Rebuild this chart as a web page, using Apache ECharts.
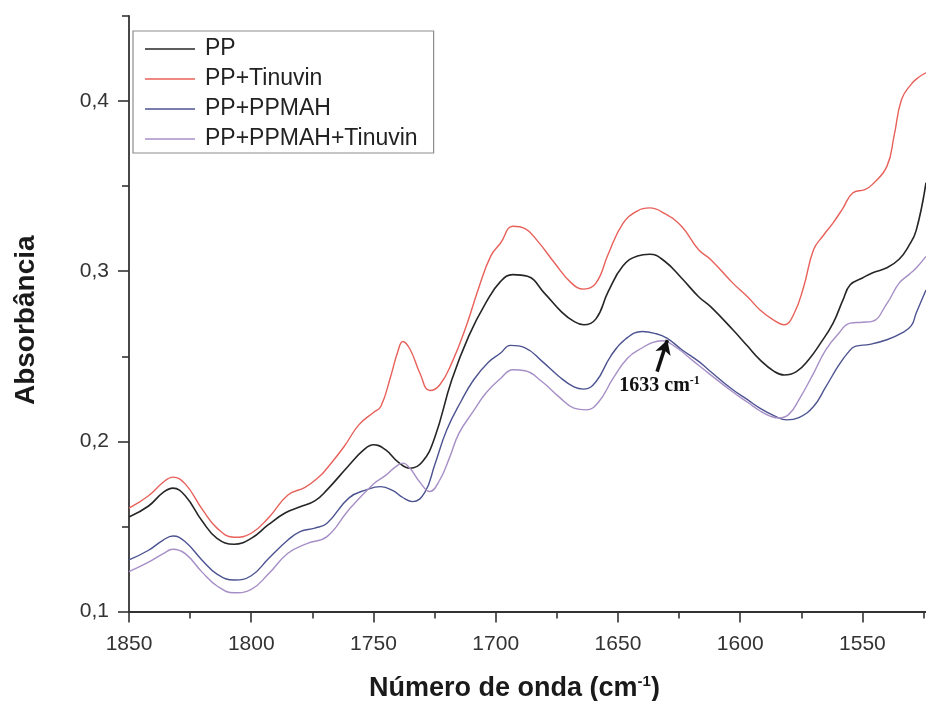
<!DOCTYPE html>
<html>
<head>
<meta charset="utf-8">
<script src="https://cdn.jsdelivr.net/npm/echarts@6/dist/echarts.min.js"></script>
<style>
  html, body { margin: 0; padding: 0; background: #ffffff; }
  #chart { width: 926px; height: 701px; }
</style>
</head>
<body>
<div id="chart"></div>
<script>
// FTIR absorbance spectra, carbonyl region (wavenumber in cm-1, absorbance)
const seriesNames = ['PP', 'PP+Tinuvin', 'PP+PPMAH', 'PP+PPMAH+Tinuvin'];

const pp = [
  [1850, 0.1555], [1842, 0.162], [1836, 0.170], [1832, 0.1725], [1827, 0.168],
  [1820, 0.153], [1814, 0.143], [1807, 0.1395], [1800, 0.143], [1793, 0.151],
  [1786, 0.158], [1780, 0.1615], [1774, 0.165], [1769, 0.1715], [1760, 0.186],
  [1754, 0.195], [1750, 0.198], [1745, 0.195], [1740, 0.188], [1735, 0.1842],
  [1730, 0.188], [1725, 0.202], [1718, 0.236], [1711, 0.262], [1704, 0.2815],
  [1698, 0.294], [1693, 0.298], [1687, 0.297], [1680, 0.287], [1673, 0.276],
  [1668, 0.2705], [1664, 0.2685], [1659, 0.272], [1654, 0.288], [1648, 0.303],
  [1642, 0.309], [1637, 0.310], [1631, 0.306], [1624, 0.296], [1617, 0.285],
  [1612, 0.279], [1603, 0.2656], [1597, 0.256], [1592, 0.248], [1586, 0.241],
  [1582, 0.239], [1577, 0.241], [1572, 0.248], [1567, 0.258], [1562, 0.2695],
  [1558, 0.283], [1555, 0.292], [1550, 0.296], [1546, 0.299], [1540, 0.302],
  [1535, 0.307], [1531, 0.315], [1528, 0.324], [1524, 0.352]
];

const ppTinuvin = [
  [1850, 0.1607], [1842, 0.168], [1836, 0.176], [1832, 0.179], [1827, 0.175],
  [1820, 0.160], [1814, 0.149], [1807, 0.1436], [1800, 0.146], [1793, 0.155],
  [1785, 0.1685], [1778, 0.173], [1772, 0.1795], [1769, 0.1842], [1762, 0.197],
  [1756, 0.2097], [1750, 0.217], [1747, 0.2205], [1743, 0.238], [1740, 0.253],
  [1738, 0.2587], [1735, 0.254], [1731, 0.240], [1727, 0.2299], [1723, 0.233],
  [1718, 0.246], [1712, 0.268], [1707, 0.290], [1702, 0.309], [1698, 0.3166],
  [1693, 0.3264], [1688, 0.325], [1683, 0.318], [1676, 0.305], [1669, 0.293],
  [1664, 0.2895], [1659, 0.293], [1654, 0.310], [1648, 0.328], [1642, 0.3355],
  [1637, 0.3372], [1631, 0.334], [1624, 0.3264], [1617, 0.3126], [1612, 0.3068],
  [1603, 0.293], [1597, 0.285], [1592, 0.2774], [1586, 0.271], [1582, 0.2685],
  [1578, 0.275], [1574, 0.291], [1570, 0.3126], [1566, 0.321], [1562, 0.3284],
  [1558, 0.337], [1554, 0.346], [1549, 0.348], [1546, 0.3509], [1540, 0.3616],
  [1537, 0.380], [1534, 0.4009], [1530, 0.410], [1527, 0.414], [1524, 0.4166]
];

const ppPpmah = [
  [1850, 0.1303], [1842, 0.136], [1836, 0.142], [1832, 0.1444], [1827, 0.141],
  [1820, 0.130], [1814, 0.122], [1807, 0.1185], [1800, 0.121], [1793, 0.131],
  [1785, 0.142], [1780, 0.147], [1774, 0.149], [1769, 0.1519], [1760, 0.1668],
  [1753, 0.1715], [1747, 0.1734], [1742, 0.171], [1738, 0.167], [1734, 0.1646],
  [1729, 0.170], [1725, 0.186], [1720, 0.2068], [1714, 0.224], [1709, 0.2362],
  [1703, 0.2465], [1698, 0.2519], [1694, 0.2564], [1688, 0.255], [1681, 0.247],
  [1674, 0.238], [1668, 0.232], [1664, 0.2307], [1659, 0.235], [1653, 0.250],
  [1647, 0.260], [1640, 0.2646], [1635, 0.2635], [1630, 0.2607], [1624, 0.254],
  [1617, 0.247], [1613, 0.2421], [1603, 0.2303], [1597, 0.2245], [1592, 0.2195],
  [1586, 0.215], [1581, 0.2126], [1576, 0.214], [1570, 0.2205], [1565, 0.232],
  [1560, 0.244], [1556, 0.252], [1553, 0.2558], [1547, 0.257], [1540, 0.2597],
  [1534, 0.2636], [1530, 0.268], [1528, 0.2754], [1524, 0.289]
];

const ppPpmahTinuvin = [
  [1850, 0.1234], [1842, 0.129], [1836, 0.134], [1832, 0.1366], [1827, 0.134],
  [1820, 0.123], [1814, 0.115], [1807, 0.111], [1800, 0.113], [1793, 0.122],
  [1785, 0.1342], [1777, 0.1401], [1769, 0.144], [1760, 0.160], [1750, 0.175],
  [1745, 0.180], [1741, 0.185], [1738, 0.1872], [1735, 0.184], [1731, 0.176],
  [1727, 0.1705], [1723, 0.177], [1719, 0.190], [1715, 0.2048], [1709, 0.218],
  [1704, 0.2284], [1698, 0.237], [1693, 0.2421], [1688, 0.2415], [1681, 0.235],
  [1674, 0.226], [1668, 0.2195], [1663, 0.2185], [1658, 0.223], [1652, 0.237],
  [1646, 0.249], [1640, 0.255], [1636, 0.258], [1632, 0.2591], [1626, 0.255],
  [1619, 0.247], [1613, 0.2401], [1603, 0.229], [1597, 0.223], [1592, 0.218],
  [1588, 0.215], [1584, 0.2137], [1580, 0.216], [1576, 0.2244], [1570, 0.240],
  [1565, 0.2538], [1560, 0.263], [1555, 0.2695], [1550, 0.270], [1546, 0.2705],
  [1540, 0.281], [1535, 0.293], [1531, 0.298], [1528, 0.3019], [1524, 0.3087]
];

// axis ticks
const xMajorTicks = [1850, 1800, 1750, 1700, 1650, 1600, 1550];
const xMinorTicks = [1825, 1775, 1725, 1675, 1625, 1575, 1525];
const yMajorTicks = [0.1, 0.2, 0.3, 0.4];
const yMinorTicks = [0.15, 0.25, 0.35, 0.45];

// peak annotation (arrow from tail to head, label centre)
const peakText = '1633 cm';
const peakArrow = [[1634, 0.241], [1629.8, 0.2595]];
const peakLabelAt = [1633, 0.2326];

const colors = ['#262626', '#e8605a', '#4c5391', '#a68fc6'];
const seriesData = [pp, ppTinuvin, ppPpmah, ppPpmahTinuvin];

const FONT = 'Liberation Sans, Arial, sans-serif';
const AXIS_COLOR = '#333333';

const chart = echarts.init(document.getElementById('chart'), null, { renderer: 'canvas' });

const series = seriesNames.map((name, i) => ({
  name: name,
  type: 'line',
  xAxisIndex: 0,
  yAxisIndex: 0,
  data: seriesData[i],
  symbol: 'none',
  smooth: 0.45,
  lineStyle: { color: colors[i], width: i === 0 ? 1.6 : 1.4 },
  itemStyle: { color: colors[i] },
  z: 2
}));

series[3].markLine = {
  silent: true,
  symbol: ['none', 'arrow'],
  symbolSize: [12, 14],
  label: { show: false },
  lineStyle: { color: '#111111', width: 3.5, type: 'solid' },
  data: [[{ coord: peakArrow[0] }, { coord: peakArrow[1] }]]
};
series[3].markPoint = {
  silent: true,
  symbol: 'rect',
  symbolSize: [1, 1],
  itemStyle: { color: 'rgba(0,0,0,0)' },
  label: {
    show: true,
    position: 'inside',
    formatter: '{a|' + peakText + '}{s|-1}',
    rich: {
      a: { fontFamily: 'Liberation Serif, Times New Roman, serif', fontWeight: 'bold', fontSize: 20, color: '#111111' },
      s: { fontFamily: 'Liberation Serif, Times New Roman, serif', fontWeight: 'bold', fontSize: 12, color: '#111111', padding: [0, 0, 9, 0] }
    }
  },
  data: [{ coord: peakLabelAt }]
};

const decimalComma = v => v.toFixed(1).replace('.', ',');
const plainNumber = v => String(Math.round(v));

const option = {
  animation: false,
  backgroundColor: '#ffffff',
  color: colors,
  grid: { left: 129, right: 0, top: 16, bottom: 89.5, containLabel: false, outerBoundsMode: 'none' },
  legend: {
    orient: 'vertical',
    left: 133,
    top: 31,
    data: seriesNames,
    icon: 'path://M0,0 L50,0 L50,1.4 L0,1.4 Z',
    itemWidth: 50,
    itemHeight: 2,
    itemGap: 4,
    padding: [5, 16, 1, 12],
    borderColor: '#8c8c8c',
    borderWidth: 1.2,
    backgroundColor: '#ffffff',
    selectedMode: false,
    textStyle: { fontFamily: FONT, fontSize: 23, lineHeight: 26, color: '#222222', padding: [0, 0, 0, 5] }
  },
  xAxis: [
    {
      type: 'value',
      inverse: true,
      min: 1524,
      max: 1850,
      position: 'bottom',
      name: 'Número de onda (cm{s|-1})',
      nameLocation: 'middle',
      nameGap: 63,
      nameTextStyle: {
        fontFamily: FONT, fontWeight: 'bold', fontSize: 27, color: '#1a1a1a',
        padding: [0, 26, 0, 0],
        rich: { s: { fontFamily: FONT, fontWeight: 'bold', fontSize: 15, color: '#1a1a1a', padding: [0, 0, 13, 0] } }
      },
      axisLine: { show: true, onZero: false, lineStyle: { color: AXIS_COLOR, width: 1.8 } },
      axisTick: { show: true, inside: false, length: 11, customValues: xMajorTicks, lineStyle: { color: AXIS_COLOR, width: 1.6 } },
      axisLabel: { show: true, customValues: xMajorTicks, margin: 22, fontFamily: FONT, fontSize: 21, color: '#333333', formatter: plainNumber },
      splitLine: { show: false },
      minorTick: { show: false }
    },
    {
      type: 'value',
      inverse: true,
      min: 1524,
      max: 1850,
      position: 'bottom',
      offset: 0,
      axisLine: { show: false },
      axisTick: { show: true, inside: false, length: 7, customValues: xMinorTicks, lineStyle: { color: AXIS_COLOR, width: 1.6 } },
      axisLabel: { show: false },
      splitLine: { show: false }
    }
  ],
  yAxis: [
    {
      type: 'value',
      min: 0.1,
      max: 0.45,
      position: 'left',
      name: 'Absorbância',
      nameLocation: 'middle',
      nameRotate: 90,
      nameGap: 89,
      nameTextStyle: { fontFamily: FONT, fontWeight: 'bold', fontSize: 28, color: '#1a1a1a', padding: [0, 13, 0, 0] },
      axisLine: { show: true, onZero: false, lineStyle: { color: AXIS_COLOR, width: 1.8 } },
      axisTick: { show: true, inside: false, length: 11, customValues: yMajorTicks, lineStyle: { color: AXIS_COLOR, width: 1.6 } },
      axisLabel: { show: true, customValues: yMajorTicks, margin: 20, fontFamily: FONT, fontSize: 21, color: '#333333', formatter: decimalComma },
      splitLine: { show: false }
    },
    {
      type: 'value',
      min: 0.1,
      max: 0.45,
      position: 'left',
      offset: 0,
      axisLine: { show: false },
      axisTick: { show: true, inside: false, length: 7, customValues: yMinorTicks, lineStyle: { color: AXIS_COLOR, width: 1.6 } },
      axisLabel: { show: false },
      splitLine: { show: false }
    }
  ],
  series: series
};

chart.setOption(option);
</script>
</body>
</html>
